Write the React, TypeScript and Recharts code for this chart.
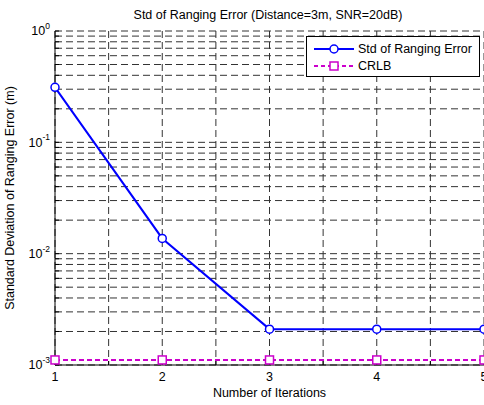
import { LineChart, Line, XAxis, YAxis, CartesianGrid, Legend } from 'recharts'

// iterations on the x axis
const iterations = [1, 2, 3, 4, 5]
// std of ranging error (m)
const stdError = [0.312, 0.0137, 0.0021, 0.0021, 0.0021]
// Cramer-Rao lower bound (m)
const crlb = [0.00111, 0.00111, 0.00111, 0.00111, 0.00111]

const xTicks = [1, 1.5, 2, 2.5, 3, 3.5, 4, 4.5, 5]
const xLabels = [1, 2, 3, 4, 5]
const yTicks = [
  0.001, 0.002, 0.003, 0.004, 0.005, 0.006, 0.007, 0.008, 0.009,
  0.01, 0.02, 0.03, 0.04, 0.05, 0.06, 0.07, 0.08, 0.09,
  0.1, 0.2, 0.3, 0.4, 0.5, 0.6, 0.7, 0.8, 0.9,
  1,
]
const yLabels = [0.001, 0.01, 0.1, 1]

const data = iterations.map((it, i) => ({ it, std: stdError[i], crlb: crlb[i] }))

const FONT = 'Arial, "Liberation Sans", Helvetica, sans-serif'
const FS = 12.5
const BLUE = '#0000ff'
const MAGENTA = '#cc00cc'

function YTick({ x, y, payload }: any) {
  if (!yLabels.includes(payload.value)) return null
  const exp = Math.round(Math.log10(payload.value))
  return (
    <text x={x} y={y} textAnchor="end" fontFamily={FONT} fontSize={FS} fill="#000">
      <tspan dy="0.35em">10</tspan>
      <tspan dy="-0.75em" fontSize={8.5}>{exp}</tspan>
    </text>
  )
}

function XTick({ x, y, payload }: any) {
  if (!xLabels.includes(payload.value)) return null
  return (
    <text x={x} y={y} dy="0.72em" textAnchor="middle" fontFamily={FONT} fontSize={FS} fill="#000">
      {payload.value}
    </text>
  )
}

function LegendBox() {
  const rows = [
    { name: 'Std of Ranging Error', color: BLUE, dash: undefined, shape: 'circle' },
    { name: 'CRLB', color: MAGENTA, dash: '4 3', shape: 'square' },
  ]
  return (
    <div
      style={{
        width: 174,
        height: 41,
        boxSizing: 'border-box',
        border: '1px solid #000',
        background: '#fff',
        fontFamily: FONT,
        fontSize: FS,
        paddingTop: 3,
      }}
    >
      {rows.map((r) => (
        <div key={r.name} style={{ display: 'flex', alignItems: 'center', height: 17 }}>
          <svg width={40} height={12} style={{ marginLeft: 7, marginRight: 4 }}>
            <line x1={0} y1={6} x2={40} y2={6} stroke={r.color} strokeWidth={2} strokeDasharray={r.dash} />
            {r.shape === 'circle' ? (
              <circle cx={20} cy={6} r={4} fill="#fff" stroke={r.color} strokeWidth={1.5} />
            ) : (
              <rect x={16} y={2} width={8} height={8} fill="#fff" stroke={r.color} strokeWidth={1.5} />
            )}
          </svg>
          <span style={{ color: '#000' }}>{r.name}</span>
        </div>
      ))}
    </div>
  )
}

function Square({ cx, cy }: any) {
  return <rect x={cx - 4} y={cy - 4} width={8} height={8} fill="#fff" stroke={MAGENTA} strokeWidth={1.5} />
}

export default function App() {
  return (
    <div style={{ position: 'absolute', left: 0, top: 0, width: 484, height: 405, overflow: 'hidden', background: '#fff' }}>
      <LineChart width={500} height={405} data={data} margin={{ top: 31, right: 16, bottom: 0, left: 0 }}>
        <text x={268} y={19} textAnchor="middle" fontFamily={FONT} fontSize={FS} fill="#000">
          Std of Ranging Error (Distance=3m, SNR=20dB)
        </text>
        <CartesianGrid
          stroke="#333"
          strokeDasharray="7 4"
          horizontalValues={yTicks}
          verticalValues={xTicks}
        />
        <XAxis
          dataKey="it"
          type="number"
          domain={[1, 5]}
          ticks={xTicks}
          interval={0}
          height={40}
          tickSize={-4}
          tickMargin={11}
          tick={<XTick />}
          axisLine={{ stroke: '#000' }}
          tickLine={{ stroke: '#000' }}
          label={{ value: 'Number of Iterations', position: 'insideBottom', offset: 8, fontFamily: FONT, fontSize: FS, fill: '#000' }}
        />
        <XAxis
          xAxisId="top"
          orientation="top"
          dataKey="it"
          type="number"
          domain={[1, 5]}
          ticks={xTicks}
          interval={0}
          height={0}
          tickSize={-4}
          tick={false}
          axisLine={{ stroke: '#000' }}
          tickLine={{ stroke: '#000' }}
        />
        <YAxis
          scale="log"
          type="number"
          domain={[0.001, 1]}
          allowDataOverflow
          ticks={yTicks}
          interval={0}
          width={55}
          tickSize={-4}
          tickMargin={9}
          tick={<YTick />}
          axisLine={{ stroke: '#000' }}
          tickLine={{ stroke: '#000' }}
          label={{
            value: 'Standard Deviation of Ranging Error (m)',
            angle: -90,
            position: 'insideLeft',
            offset: 0,
            dx: 10,
            style: { textAnchor: 'middle' },
            fontFamily: FONT,
            fontSize: FS,
            fill: '#000',
          }}
        />
        <Legend
          verticalAlign="middle"
          layout="horizontal"
          content={<LegendBox />}
          wrapperStyle={{ left: 306, top: 36, width: 174 }}
        />
        <Line
          dataKey="std"
          name="Std of Ranging Error"
          stroke={BLUE}
          strokeWidth={2}
          dot={{ r: 4, fill: '#fff', stroke: BLUE, strokeWidth: 1.5 }}
          isAnimationActive={false}
        />
        <Line
          dataKey="crlb"
          name="CRLB"
          stroke={MAGENTA}
          strokeWidth={2}
          strokeDasharray="5 3"
          dot={<Square />}
          isAnimationActive={false}
        />
      </LineChart>
    </div>
  )
}
